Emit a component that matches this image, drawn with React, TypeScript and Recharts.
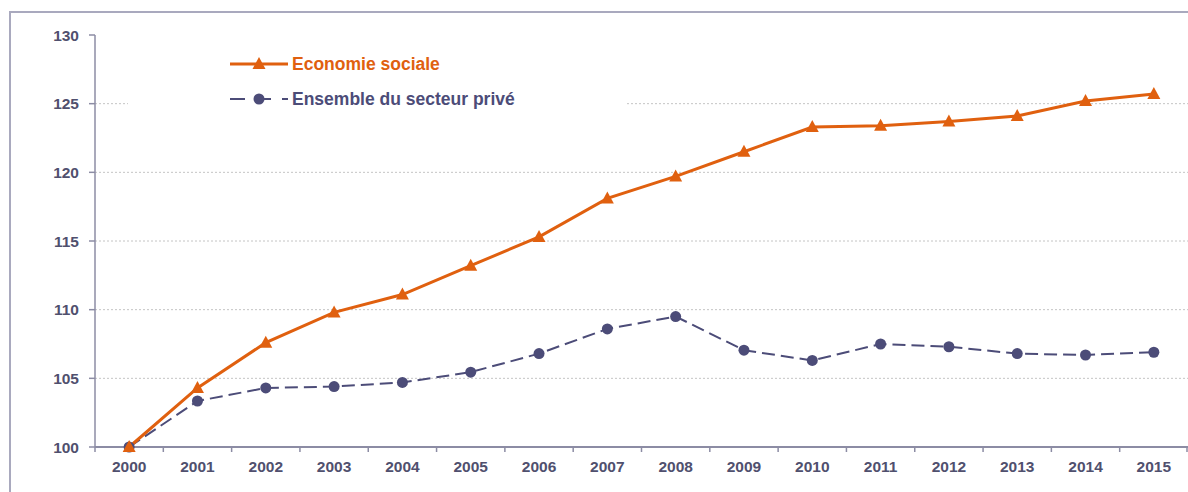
import React from "react";
import { LineChart, Line, XAxis, YAxis, ReferenceLine } from "recharts";

// years on the x axis
const years = ["2000", "2001", "2002", "2003", "2004", "2005", "2006", "2007", "2008", "2009", "2010", "2011", "2012", "2013", "2014", "2015"];
// index, base 100 in 2000
const economieSociale = [100, 104.3, 107.6, 109.8, 111.1, 113.2, 115.3, 118.1, 119.7, 121.5, 123.3, 123.4, 123.7, 124.1, 125.2, 125.7];
const secteurPrive = [100, 103.35, 104.3, 104.4, 104.7, 105.45, 106.8, 108.6, 109.5, 107.05, 106.3, 107.5, 107.3, 106.8, 106.7, 106.9];
const yTicks = [100, 105, 110, 115, 120, 125, 130];
const gridValues = [105, 110, 115, 120, 125];

const data = years.map((y, i) => ({ year: y, eco: economieSociale[i], prive: secteurPrive[i] }));

const ORANGE = "#E0600F";
const NAVY = "#4C4C78";
const AXIS = "#8C8CA4";
const TEXT = "#50506E";
const FONT = "Liberation Sans, Arial, sans-serif";

const W = 1188;
const H = 492;
const LEFT = 95;
const BAND = (W - LEFT) / years.length;

const Triangle = (props: any) => {
  const { cx, cy, index } = props;
  return <path key={`t-${index}`} d={`M${cx},${cy - 7} L${cx + 6.5},${cy + 5} L${cx - 6.5},${cy + 5} Z`} fill={ORANGE} />;
};

const XTick = (props: any) => {
  const { x, y, payload, index } = props;
  return (
    <g>
      <line x1={x - BAND / 2} x2={x - BAND / 2} y1={y} y2={y + 5} stroke={AXIS} strokeWidth={1.5} />
      {index === years.length - 1 && (
        <line x1={x + BAND / 2 - 1} x2={x + BAND / 2 - 1} y1={y} y2={y + 5} stroke={AXIS} strokeWidth={1.5} />
      )}
      <text x={x} y={y + 25} textAnchor="middle" fontSize={15.5} fontWeight="bold" fontFamily={FONT} fill={TEXT}>
        {payload.value}
      </text>
    </g>
  );
};

export default function App() {
  return (
    <div style={{ position: "absolute", left: 0, top: 0, width: W, height: H, overflow: "hidden", background: "#fff" }}>
      <div style={{ position: "absolute", left: 9, top: 11, width: W + 20, height: H + 20, border: "2px solid #A9A9BE", boxSizing: "border-box" }} />
      <div style={{ position: "absolute", left: 0, top: 0 }}>
        <LineChart width={W} height={H} data={data} margin={{ top: 35, right: 0, left: 35, bottom: 15 }}>
          {gridValues.map((v) => (
            <ReferenceLine key={v} y={v} stroke="#C4C4C4" strokeDasharray="2 2" strokeWidth={1} />
          ))}
          <XAxis
            dataKey="year"
            scale="band"
            height={30}
            tickLine={false}
            tickSize={0}
            tickMargin={0}
            axisLine={{ stroke: AXIS, strokeWidth: 2 }}
            tick={<XTick />}
            interval={0}
          />
          <YAxis
            domain={[100, 130]}
            ticks={yTicks}
            width={60}
            tickSize={6}
            tickMargin={10}
            axisLine={{ stroke: AXIS, strokeWidth: 1.5 }}
            tickLine={{ stroke: AXIS, strokeWidth: 1.5 }}
            tick={{ fontSize: 15.5, fontWeight: "bold", fontFamily: FONT, fill: TEXT }}
          />
          <Line
            dataKey="prive"
            stroke={NAVY}
            strokeWidth={2}
            strokeDasharray="13 6"
            dot={{ r: 5.5, fill: NAVY, stroke: NAVY, strokeWidth: 0 }}
            isAnimationActive={false}
          />
          <Line
            dataKey="eco"
            stroke={ORANGE}
            strokeWidth={3}
            dot={<Triangle />}
            isAnimationActive={false}
          />
        </LineChart>
      </div>
      <div style={{ position: "absolute", left: 128, top: 42, width: 497, height: 76, background: "#fff" }}>
        <svg width={497} height={76} style={{ position: "absolute", left: 0, top: 0 }}>
          <line x1={102} x2={160} y1={22} y2={22} stroke={ORANGE} strokeWidth={3} />
          <path d={`M131,15 L137.5,27 L124.5,27 Z`} fill={ORANGE} />
          <line x1={102} x2={160} y1={57} y2={57} stroke={NAVY} strokeWidth={2} strokeDasharray="15 11" />
          <circle cx={131} cy={57} r={5.5} fill={NAVY} />
          <text x={164} y={28} fontSize={17.5} fontWeight="bold" fontFamily={FONT} fill={ORANGE}>Economie sociale</text>
          <text x={164} y={63} fontSize={17.5} fontWeight="bold" fontFamily={FONT} fill={NAVY}>Ensemble du secteur privé</text>
        </svg>
      </div>
    </div>
  );
}
